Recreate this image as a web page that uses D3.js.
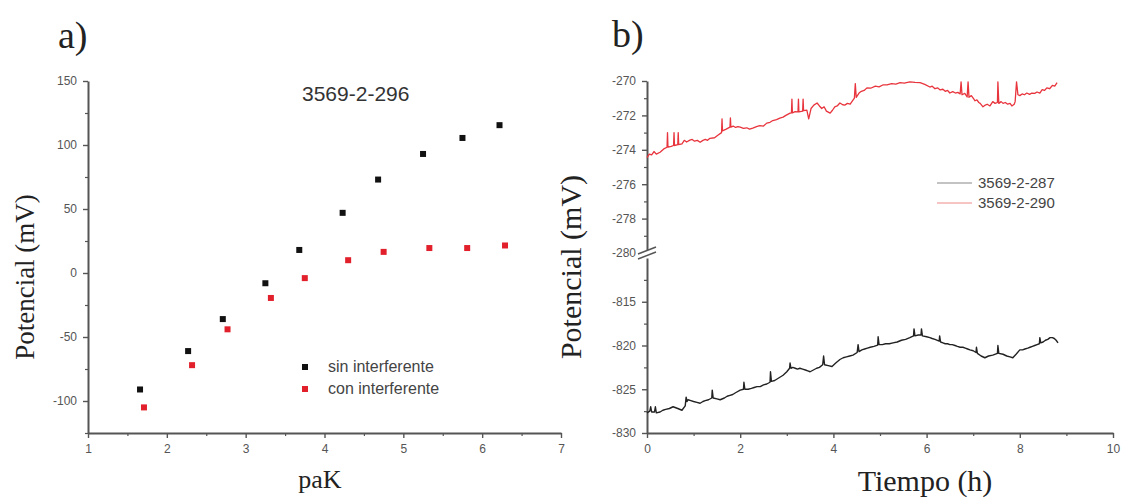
<!DOCTYPE html>
<html>
<head>
<meta charset="utf-8">
<script src="https://cdn.jsdelivr.net/npm/d3@7"></script>
<style>
  html, body { margin: 0; padding: 0; background: #fff; }
  svg { display: block; }
</style>
</head>
<body>
<svg id="fig" width="1122" height="503"></svg>
<script>
// ---------- panel a: potential vs paK ----------
const pakSin = [1.66, 2.27, 2.71, 3.25, 3.68, 4.23, 4.68, 5.25, 5.75, 6.22];
const potSin = [-91, -61, -36, -8, 18, 47, 73, 93, 105.5, 115.5];
const pakCon = [1.71, 2.32, 2.77, 3.32, 3.75, 4.30, 4.75, 5.33, 5.81, 6.29];
const potCon = [-105, -72, -44, -19.5, -4, 10, 16.5, 19.5, 19.5, 21.5];
const aXTicks = [1, 2, 3, 4, 5, 6, 7];
const aYTicks = [-100, -50, 0, 50, 100, 150];
const aLegend = ["sin interferente", "con interferente"];
const aSampleName = "3569-2-296";

// ---------- panel b: potential vs time ----------
const timeRed = [0.00,0.05,0.10,0.15,0.20,0.28,0.36,0.43,0.44,0.45,0.52,0.57,0.58,0.59,0.66,0.67,0.68,0.75,0.80,0.85,0.92,0.97,1.02,1.08,1.14,1.20,1.25,1.30,1.35,1.45,1.52,1.60,1.61,1.62,1.70,1.78,1.79,1.80,1.85,1.90,1.95,2.00,2.07,2.14,2.20,2.27,2.35,2.42,2.50,2.57,2.64,2.70,2.78,2.85,2.92,2.98,3.07,3.10,3.11,3.12,3.18,3.24,3.25,3.26,3.34,3.35,3.36,3.43,3.47,3.52,3.58,3.65,3.70,3.75,3.80,3.85,3.93,3.98,4.03,4.08,4.14,4.20,4.25,4.30,4.36,4.45,4.47,4.49,4.55,4.60,4.66,4.72,4.80,4.90,4.98,5.06,5.15,5.25,5.34,5.43,5.52,5.64,5.75,5.86,5.96,6.07,6.12,6.18,6.24,6.29,6.35,6.40,6.45,6.50,6.56,6.62,6.67,6.72,6.74,6.76,6.82,6.87,6.89,6.91,6.96,7.00,7.04,7.08,7.12,7.15,7.21,7.26,7.30,7.36,7.42,7.47,7.52,7.53,7.55,7.60,7.64,7.69,7.74,7.79,7.83,7.88,7.90,7.93,7.96,8.00,8.05,8.10,8.15,8.21,8.26,8.32,8.37,8.43,8.48,8.53,8.58,8.64,8.70,8.75,8.80];
const potRed = [-274.45,-274.25,-274.30,-274.10,-274.25,-274.14,-273.95,-273.85,-273.00,-273.85,-273.80,-273.75,-273.00,-273.75,-273.70,-273.00,-273.70,-273.65,-273.45,-273.55,-273.44,-273.40,-273.50,-273.45,-273.56,-273.45,-273.40,-273.45,-273.33,-273.30,-273.15,-273.00,-272.20,-272.90,-272.80,-272.68,-272.15,-272.68,-272.62,-272.70,-272.65,-272.68,-272.75,-272.72,-272.80,-272.74,-272.65,-272.60,-272.62,-272.45,-272.40,-272.30,-272.25,-272.16,-272.10,-272.00,-271.87,-271.85,-271.05,-271.85,-271.78,-271.80,-271.05,-271.80,-271.75,-271.05,-271.72,-271.69,-272.20,-271.60,-271.40,-271.28,-271.45,-271.60,-271.50,-271.75,-271.87,-271.70,-271.50,-271.45,-271.28,-271.38,-271.40,-271.30,-271.35,-271.00,-270.15,-270.95,-270.70,-270.60,-270.55,-270.40,-270.42,-270.30,-270.34,-270.23,-270.22,-270.15,-270.18,-270.10,-270.12,-270.05,-270.08,-270.10,-270.20,-270.35,-270.30,-270.45,-270.40,-270.52,-270.48,-270.60,-270.55,-270.70,-270.62,-270.70,-270.66,-270.75,-270.05,-270.80,-270.72,-270.93,-270.05,-270.95,-270.85,-271.00,-271.15,-271.10,-271.25,-271.30,-271.50,-271.40,-271.35,-271.45,-271.20,-271.30,-271.25,-270.05,-271.30,-271.20,-271.30,-271.25,-271.35,-271.30,-271.45,-271.35,-271.20,-270.05,-270.80,-270.85,-270.75,-270.80,-270.70,-270.78,-270.70,-270.72,-270.64,-270.70,-270.50,-270.55,-270.40,-270.45,-270.25,-270.30,-270.10];
const timeBlack = [0.00,0.06,0.08,0.10,0.16,0.18,0.20,0.28,0.34,0.40,0.48,0.56,0.66,0.75,0.82,0.84,0.86,0.88,0.94,1.00,1.07,1.14,1.20,1.25,1.32,1.39,1.40,1.42,1.50,1.57,1.66,1.72,1.78,1.84,1.90,2.00,2.07,2.08,2.10,2.17,2.24,2.30,2.36,2.43,2.50,2.57,2.64,2.65,2.67,2.74,2.80,2.86,2.92,3.00,3.06,3.07,3.09,3.13,3.18,3.23,3.28,3.34,3.40,3.45,3.50,3.57,3.64,3.70,3.77,3.79,3.81,3.89,3.97,4.05,4.14,4.21,4.28,4.35,4.42,4.51,4.53,4.55,4.61,4.67,4.73,4.79,4.87,4.95,4.96,4.98,5.05,5.12,5.20,5.28,5.37,5.46,5.55,5.64,5.72,5.73,5.75,5.82,5.88,5.89,5.91,6.00,6.07,6.12,6.18,6.27,6.28,6.30,6.35,6.40,6.45,6.50,6.55,6.61,6.66,6.72,6.78,6.83,6.88,6.93,7.00,7.06,7.07,7.09,7.17,7.25,7.33,7.42,7.52,7.53,7.55,7.64,7.72,7.79,7.85,7.92,8.00,8.06,8.11,8.17,8.22,8.27,8.32,8.37,8.42,8.43,8.45,8.50,8.55,8.60,8.65,8.70,8.74,8.78,8.82];
const potBlack = [-827.7,-827.5,-827.0,-827.6,-827.6,-827.0,-827.7,-827.6,-827.4,-827.3,-827.2,-827.0,-827.2,-827.4,-826.9,-825.9,-826.4,-826.2,-826.3,-826.4,-826.5,-826.6,-826.4,-826.3,-826.2,-826.0,-825.1,-826.0,-826.1,-826.2,-826.0,-825.8,-825.7,-825.6,-825.4,-825.1,-825.0,-824.2,-825.0,-825.0,-824.9,-824.8,-824.7,-824.7,-824.5,-824.4,-824.2,-823.0,-824.1,-824.0,-823.8,-823.6,-823.4,-823.0,-822.6,-822.0,-822.6,-822.5,-822.6,-822.7,-822.6,-822.7,-822.8,-822.9,-823.0,-822.8,-822.6,-822.5,-822.2,-821.2,-822.2,-822.3,-822.4,-822.0,-821.6,-821.4,-821.3,-821.2,-821.1,-820.8,-819.9,-820.7,-820.5,-820.4,-820.3,-820.2,-820.1,-819.95,-819.0,-819.9,-819.9,-819.8,-819.8,-819.7,-819.6,-819.4,-819.3,-819.1,-818.9,-818.1,-818.9,-818.8,-818.8,-818.1,-818.9,-819.0,-819.1,-819.2,-819.3,-819.5,-818.9,-819.6,-819.7,-819.8,-819.8,-819.9,-819.9,-820.0,-820.1,-820.2,-820.2,-820.3,-820.4,-820.5,-820.6,-820.8,-820.2,-820.9,-821.2,-821.4,-821.2,-821.1,-820.9,-820.0,-820.9,-821.0,-821.2,-821.3,-821.4,-821.0,-820.5,-820.5,-820.4,-820.3,-820.2,-820.1,-820.0,-819.9,-819.8,-819.1,-819.7,-819.6,-819.4,-819.3,-819.1,-819.1,-819.2,-819.4,-819.7];
const bXTicks = [0, 2, 4, 6, 8, 10];
const bUpperTicks = [-280, -278, -276, -274, -272, -270];
const bLowerTicks = [-830, -825, -820, -815];
const bLegend = ["3569-2-287", "3569-2-290"];

const svg = d3.select("#fig");
const SERIF = '"Liberation Serif", "Times New Roman", serif';
const SANS = '"Liberation Sans", Arial, sans-serif';
const AXIS = "#555";
const plainNum = d => String(d);

function styleAxis(g, width) {
  g.select(".domain").attr("stroke", AXIS).attr("stroke-width", width);
  g.selectAll(".tick line").attr("stroke", AXIS).attr("stroke-width", 1.4);
  g.selectAll(".tick text").attr("font-size", 12).attr("font-family", SANS).attr("fill", "#555");
}
function minorAxis(axisFn, scale, values, tr) {
  const g = svg.append("g").attr("transform", tr)
    .call(axisFn(scale).tickValues(values).tickSize(3).tickFormat(""));
  g.select(".domain").remove();
  g.selectAll(".tick line").attr("stroke", AXIS).attr("stroke-width", 1.2);
  return g;
}

// ===== panel a =====
const xa = d3.scaleLinear().domain([1, 7]).range([88, 561]);
const ya = d3.scaleLinear().domain([-125, 150]).range([433, 81]);

minorAxis(d3.axisBottom, xa, d3.range(1.5, 7, 1), "translate(0,433)");
minorAxis(d3.axisLeft, ya, [-125, -75, -25, 25, 75, 125], "translate(88,0)");

const axA = svg.append("g").attr("transform", "translate(0,433)")
  .call(d3.axisBottom(xa).tickValues(aXTicks).tickFormat(plainNum)
    .tickSize(5).tickPadding(6).tickSizeOuter(0));
styleAxis(axA, 2);
const ayA = svg.append("g").attr("transform", "translate(88,0)")
  .call(d3.axisLeft(ya).tickValues(aYTicks).tickFormat(plainNum)
    .tickSize(5).tickPadding(6).tickSizeOuter(0));
styleAxis(ayA, 2);

const sq = 6;
svg.append("g").selectAll("rect").data(pakSin.map((p, i) => [p, potSin[i]]))
  .join("rect")
  .attr("x", d => xa(d[0]) - sq / 2).attr("y", d => ya(d[1]) - sq / 2)
  .attr("width", sq).attr("height", sq).attr("fill", "#111");
svg.append("g").selectAll("rect").data(pakCon.map((p, i) => [p, potCon[i]]))
  .join("rect")
  .attr("x", d => xa(d[0]) - sq / 2).attr("y", d => ya(d[1]) - sq / 2)
  .attr("width", sq).attr("height", sq).attr("fill", "#e2202c");

svg.append("text").attr("x", 302).attr("y", 101)
  .attr("font-family", SANS).attr("font-size", 21).attr("fill", "#333")
  .text(aSampleName);

const legA = svg.append("g");
[["#111", 367], ["#e2202c", 389]].forEach(([c, y], i) => {
  legA.append("rect").attr("x", 305 - sq / 2).attr("y", y - sq / 2)
    .attr("width", sq).attr("height", sq).attr("fill", c);
  legA.append("text").attr("x", 328).attr("y", y + 5)
    .attr("font-family", SANS).attr("font-size", 16).attr("fill", "#444")
    .text(aLegend[i]);
});

svg.append("text").attr("x", 58).attr("y", 48)
  .attr("font-family", SERIF).attr("font-size", 38).attr("fill", "#222").text("a)");
svg.append("text").attr("x", 320).attr("y", 488).attr("text-anchor", "middle")
  .attr("font-family", SERIF).attr("font-size", 26).attr("fill", "#222").text("paK");
svg.append("text").attr("transform", "translate(34,277) rotate(-90)")
  .attr("text-anchor", "middle")
  .attr("font-family", SERIF).attr("font-size", 27).attr("fill", "#222").text("Potencial (mV)");

// ===== panel b =====
const xb = d3.scaleLinear().domain([0, 10]).range([647, 1113]);
const ybUp = d3.scaleLinear().domain([-280, -270]).range([253, 81]);
const ybLo = d3.scaleLinear().domain([-830, -810]).range([433, 258]);

minorAxis(d3.axisBottom, xb, [1, 3, 5, 7, 9], "translate(0,433)");
minorAxis(d3.axisLeft, ybUp, [-279, -277, -275, -273, -271], "translate(647,0)");
minorAxis(d3.axisLeft, ybLo, [-827.5, -822.5, -817.5, -812.5], "translate(647,0)");

const axB = svg.append("g").attr("transform", "translate(0,433)")
  .call(d3.axisBottom(xb).tickValues(bXTicks).tickFormat(plainNum)
    .tickSize(5).tickPadding(6).tickSizeOuter(0));
styleAxis(axB, 2);
const ayUp = svg.append("g").attr("transform", "translate(647,0)")
  .call(d3.axisLeft(ybUp).tickValues(bUpperTicks).tickFormat(plainNum)
    .tickSize(5).tickPadding(6).tickSizeOuter(0));
styleAxis(ayUp, 2);
const ayLo = svg.append("g").attr("transform", "translate(647,0)")
  .call(d3.axisLeft(ybLo).tickValues(bLowerTicks).tickFormat(plainNum)
    .tickSize(5).tickPadding(6).tickSizeOuter(0));
styleAxis(ayLo, 2);

// axis break marks between the two segments
const brk = svg.append("g");
brk.append("polygon")
  .attr("points", "638,254 656,247 656,252 638,259").attr("fill", "#fff");
[[638, 254, 656, 247], [638, 259, 656, 252]].forEach(([x1, y1, x2, y2]) => {
  brk.append("line").attr("x1", x1).attr("y1", y1).attr("x2", x2).attr("y2", y2)
    .attr("stroke", AXIS).attr("stroke-width", 1.5);
});

const lineRed = d3.line().x((d, i) => xb(timeRed[i])).y(d => ybUp(d));
const lineBlack = d3.line().x((d, i) => xb(timeBlack[i])).y(d => ybLo(d));
svg.append("path").attr("d", lineRed(potRed)).attr("fill", "none")
  .attr("stroke", "#e8343c").attr("stroke-width", 1.3).attr("stroke-linejoin", "round");
svg.append("path").attr("d", lineBlack(potBlack)).attr("fill", "none")
  .attr("stroke", "#222").attr("stroke-width", 1.4).attr("stroke-linejoin", "round");

const legB = svg.append("g");
[["#888", 183], ["#f08a8a", 203]].forEach(([c, y], i) => {
  legB.append("line").attr("x1", 937).attr("x2", 972).attr("y1", y).attr("y2", y)
    .attr("stroke", c).attr("stroke-width", 1.2);
  legB.append("text").attr("x", 978).attr("y", y + 5)
    .attr("font-family", SANS).attr("font-size", 15).attr("fill", "#444")
    .text(bLegend[i]);
});

svg.append("text").attr("x", 612).attr("y", 47)
  .attr("font-family", SERIF).attr("font-size", 38).attr("fill", "#222").text("b)");
svg.append("text").attr("x", 925).attr("y", 491).attr("text-anchor", "middle")
  .attr("font-family", SERIF).attr("font-size", 30).attr("fill", "#222").text("Tiempo (h)");
svg.append("text").attr("transform", "translate(581,267) rotate(-90)")
  .attr("text-anchor", "middle")
  .attr("font-family", SERIF).attr("font-size", 30).attr("fill", "#222").text("Potencial (mV)");
</script>
</body>
</html>
